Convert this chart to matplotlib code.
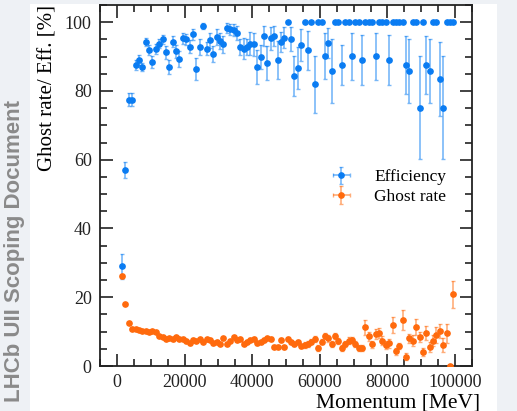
import numpy as np
import matplotlib
matplotlib.use("Agg")
import matplotlib.pyplot as plt
from matplotlib.patches import Rectangle

# bin centres in MeV (1 GeV bins)
momentum = np.arange(1500, 100000, 1000)

efficiency = [
    29.0, 57.0, 77.5, 77.5, 87.5, 89.1, 86.9, 94.2, 91.9, 88.5,
    92.2, 93.7, 95.0, 91.2, 87.0, 94.3, 91.5, 89.3, 95.4, 95.0,
    92.9, 96.5, 86.5, 92.8, 98.9, 92.3, 94.8, 90.7, 95.7, 94.6,
    93.6, 98.3, 98.0, 97.7, 96.9, 92.9, 92.3, 92.8, 93.8, 93.6,
    87.0, 89.9, 96.0, 88.1, 95.3, 96.0, 89.0, 94.3, 95.5, 100.0,
    95.0, 84.3, 86.8, 93.4, 100.0, 91.8, 100.0, 81.9, 100.0, 100.0,
    90.2, 93.9, 85.8, 100.0, 100.0, 87.6, 100.0, 100.0, 90.1, 100.0,
    100.0, 89.0, 100.0, 100.0, 100.0, 90.1, 100.0, 100.0, 100.0, 89.0,
    100.0, 100.0, 100.0, 100.0, 87.6, 85.8, 100.0, 100.0, 75.1, 100.0,
    87.6, 85.8, 100.0, 100.0, 83.4, 75.1, 100.0, 100.0, 100.0,
]
efficiency_err = [
    3.6, 2.3, 1.8, 1.8, 1.4, 1.5, 1.2, 1.2, 1.4, 1.7,
    1.4, 1.3, 1.4, 1.9, 2.1, 1.6, 1.8, 2.2, 1.6, 1.7,
    1.9, 1.6, 3.2, 2.3, 0.8, 1.9, 2.2, 2.4, 2.2, 2.4,
    2.5, 1.4, 1.6, 1.7, 2.1, 2.3, 3.0, 2.4, 3.4, 3.3,
    5.0, 3.4, 2.9, 5.0, 3.3, 2.8, 5.6, 2.9, 3.0, 0.0,
    3.5, 5.9, 6.1, 4.7, 0.0, 5.6, 0.0, 8.3, 0.0, 0.0,
    6.8, 4.4, 9.3, 0.0, 0.0, 5.9, 0.0, 0.0, 6.8, 0.0,
    0.0, 7.4, 0.0, 0.0, 0.0, 6.8, 0.0, 0.0, 0.0, 7.4,
    0.0, 0.0, 0.0, 0.0, 8.4, 9.3, 0.0, 0.0, 15.0, 0.0,
    8.4, 9.3, 0.0, 0.0, 10.8, 15.0, 0.0, 0.0, 0.0,
]

ghost_rate = [
    26.2, 18.1, 12.5, 10.9, 10.7, 10.5, 10.3, 10.3, 10.0, 10.2,
    9.8, 8.8, 8.4, 7.9, 8.0, 7.8, 8.4, 7.9, 7.8, 7.4,
    6.6, 7.6, 7.3, 7.8, 7.1, 7.8, 7.6, 6.6, 7.1, 6.5,
    8.0, 6.5, 7.3, 8.3, 7.7, 7.9, 6.5, 7.1, 7.6, 7.8,
    6.6, 7.1, 7.6, 8.0, 7.9, 5.6, 5.6, 7.6, 5.4, 7.8,
    7.1, 6.3, 7.1, 5.8, 6.1, 6.4, 7.1, 7.8, 5.2, 7.1,
    8.7, 8.0, 6.4, 8.8, 7.3, 5.3, 6.4, 7.4, 7.6, 6.4,
    5.2, 5.2, 11.2, 8.6, 6.3, 9.3, 9.5, 7.4, 6.1, 6.6,
    11.9, 4.3, 5.8, 13.4, 2.7, 8.0, 7.4, 11.3, 8.4, 4.0,
    9.7, 5.6, 7.4, 9.0, 10.2, 6.1, 9.5, 0.0, 20.9,
]
ghost_err = [
    0.5, 0.3, 0.3, 0.3, 0.3, 0.3, 0.3, 0.3, 0.3, 0.3,
    0.3, 0.3, 0.4, 0.4, 0.4, 0.4, 0.4, 0.4, 0.4, 0.4,
    0.4, 0.4, 0.4, 0.4, 0.4, 0.4, 0.4, 0.4, 0.4, 0.4,
    0.4, 0.4, 0.4, 0.4, 0.4, 0.4, 0.4, 0.4, 0.5, 0.5,
    0.5, 0.5, 0.5, 0.5, 0.5, 0.5, 0.5, 0.5, 0.5, 0.5,
    0.6, 0.6, 0.6, 0.7, 0.8, 0.8, 0.8, 0.8, 0.8, 0.8,
    0.9, 0.9, 0.9, 0.9, 0.9, 0.9, 0.9, 0.9, 0.9, 0.9,
    0.9, 0.9, 2.2, 1.3, 1.1, 1.5, 1.5, 1.2, 1.2, 1.3,
    2.4, 1.0, 1.0, 2.8, 1.0, 1.3, 1.5, 2.4, 1.5, 1.2,
    2.0, 1.4, 1.5, 2.2, 2.0, 2.0, 2.8, 0.0, 3.9,
]

blue = "#0a7cf2"
orange = "#ff6a0d"

plt.rcParams["font.family"] = ["Liberation Serif", "DejaVu Serif"]

fig = plt.figure(figsize=(5.17, 4.11), dpi=100)
fig.patch.set_facecolor("#eef1f5")
# white page area
fig.patches.append(Rectangle((30 / 517, 0), 467 / 517, 407 / 411,
                             transform=fig.transFigure, facecolor="white",
                             edgecolor="none", zorder=-10))

ax = fig.add_axes([100 / 517, 45 / 411, 372 / 517, 361 / 411])

ax.errorbar(momentum, efficiency, xerr=500, yerr=efficiency_err, fmt="o",
            color=blue, ecolor=(0.04, 0.49, 0.95, 0.55), elinewidth=1.2,
            capsize=1.5, markersize=3.8, label="Efficiency", zorder=3)
ax.errorbar(momentum, ghost_rate, xerr=500, yerr=ghost_err, fmt="o",
            color=orange, ecolor=(1.0, 0.42, 0.05, 0.55), elinewidth=1.2,
            capsize=1.5, markersize=3.8, label="Ghost rate", zorder=3)

ax.set_xlim(-5000, 105000)
ax.set_ylim(0, 105)
ax.set_xticks([0, 20000, 40000, 60000, 80000, 100000])
ax.set_yticks([0, 20, 40, 60, 80, 100])
ax.set_xticks(np.arange(-5000, 105001, 5000), minor=True)
ax.set_yticks(np.arange(0, 106, 5), minor=True)
ax.tick_params(which="both", direction="in", top=True, right=True,
               labelsize=13, width=1.2, colors="#222222")
ax.tick_params(which="major", length=9, pad=6)
ax.tick_params(which="minor", length=5)
for s in ax.spines.values():
    s.set_linewidth(1.3)
    s.set_color("#222222")

# ROOT style axis titles: x title flush right, y title flush top
ax.text(1.022, -0.075, "Momentum [MeV]", transform=ax.transAxes,
        fontsize=15.5, ha="right", va="top")
ax.text(-0.14, 1.0, "Ghost rate/ Eff. [%]", transform=ax.transAxes,
        fontsize=15, ha="center", va="top", rotation=90)

ax.legend(loc="upper left", bbox_to_anchor=(0.621, 0.545), frameon=False,
          fontsize=12.5, handlelength=1.2, handletextpad=1.3,
          labelspacing=0.2, borderpad=0, borderaxespad=0)

fig.text(15 / 517, 0.39, "LHCb UII Scoping Document", rotation=90,
         ha="center", va="center", fontsize=16, fontweight="bold",
         color="#8a8a8a", family="Liberation Sans")

fig.savefig("out.png", dpi=100)
